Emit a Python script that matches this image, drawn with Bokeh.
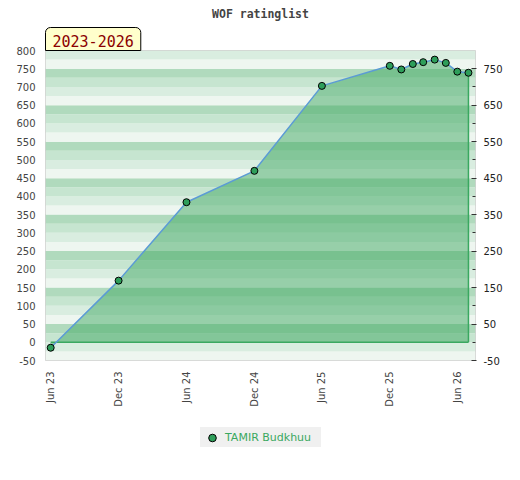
from datetime import datetime
from bokeh.plotting import figure
from bokeh.layouts import column
from bokeh.models import (Range1d, LinearAxis, FixedTicker, DatetimeTickFormatter,
                          BoxAnnotation, Title, Legend, LegendItem, ColumnDataSource)
from bokeh.embed import file_html
from bokeh.resources import INLINE

# ---- data ----
dates = ["2023-06-01", "2023-12-01", "2024-06-01", "2024-12-01", "2025-06-01",
         "2025-12-01", "2026-01-01", "2026-02-01", "2026-03-01", "2026-04-01",
         "2026-05-01", "2026-06-01", "2026-07-01"]
ratings = [-15, 169, 384, 470, 703, 758, 748, 763, 768, 775, 766, 742, 739]
player = "TAMIR Budkhuu"
title_text = "WOF ratinglist"
period_text = "2023-2026"
x_tick_dates = ["2023-06-01", "2023-12-01", "2024-06-01", "2024-12-01",
                "2025-06-01", "2025-12-01", "2026-06-01"]
left_ticks = [-50, 0, 50, 100, 150, 200, 250, 300, 350, 400, 450, 500, 550, 600, 650, 700, 750, 800]
right_major = [-50, 50, 150, 250, 350, 450, 550, 650, 750]
right_minor = [0, 100, 200, 300, 400, 500, 600, 700]
band_edges = list(range(-50, 800, 25))
band_colors = {75: "#d9ede0", 50: "#eef6f0", 25: "#b0dabd", 0: "#c6e5d0"}

xs = [datetime.strptime(d, "%Y-%m-%d") for d in dates]
tick_ms = [datetime.strptime(d, "%Y-%m-%d").timestamp() * 1000 for d in x_tick_dates]

p = figure(frame_width=430, frame_height=310, x_axis_type="datetime",
           x_range=Range1d(datetime(2023, 5, 18), datetime(2026, 7, 20)),
           y_range=Range1d(-50, 800),
           output_backend="svg", toolbar_location=None,
           min_border_left=45, min_border_right=37, min_border_top=50, min_border_bottom=55)
p.background_fill_color = "white"
p.border_fill_color = "white"
p.outline_line_color = "#d0d0d0"
p.outline_line_width = 1
p.xgrid.visible = False
p.ygrid.visible = False

for b in band_edges:
    p.add_layout(BoxAnnotation(bottom=b, top=b + 25, fill_color=band_colors[b % 100],
                               fill_alpha=1, line_alpha=0, level="underlay"))

src = ColumnDataSource(dict(x=xs, y=ratings, zero=[0] * len(xs)))
p.varea(x="x", y1="zero", y2="y", source=src, fill_color="#40a862", fill_alpha=0.5)
p.line(x=[xs[0], xs[-1]], y=[0, 0], line_color="#3aa860", line_width=1.5)
p.line(x=[xs[-1], xs[-1]], y=[0, ratings[-1]], line_color="#3aa860", line_width=1.5)
p.line(x="x", y="y", source=src, line_color="#5b9bd5", line_width=1.5)
p.scatter(x="x", y="y", source=src, size=7, fill_color="#2e9e5a", line_color="black", line_width=1)

# axes
xa = p.xaxis[0]
xa.ticker = FixedTicker(ticks=tick_ms)
xa.formatter = DatetimeTickFormatter(days="%b %y", months="%b %y", years="%b %y")
xa.major_label_orientation = 3.14159265 / 2
xa.axis_line_color = None
xa.major_tick_line_color = None
xa.minor_tick_line_color = None
xa.major_tick_out = 0
xa.major_label_standoff = 11
xa.major_label_text_font = "DejaVu Sans"
xa.major_label_text_font_size = "10px"
xa.major_label_text_color = "#444444"

ya = p.yaxis[0]
ya.ticker = FixedTicker(ticks=left_ticks)
ya.axis_line_color = None
ya.major_tick_line_color = None
ya.minor_tick_line_color = None
ya.major_tick_out = 0
ya.major_label_standoff = 10
ya.major_label_text_font = "DejaVu Sans"
ya.major_label_text_font_size = "10px"
ya.major_label_text_color = "#444444"
ya.major_label_overrides = {-50: "-50"}

ra = LinearAxis(ticker=FixedTicker(ticks=right_major, minor_ticks=right_minor))
ra.axis_line_color = None
ra.major_tick_line_color = "#333333"
ra.minor_tick_line_color = "#333333"
ra.major_tick_in = 4
ra.major_tick_out = 1
ra.minor_tick_in = 3
ra.minor_tick_out = 0
ra.major_label_standoff = 7
ra.major_label_text_font = "DejaVu Sans"
ra.major_label_text_font_size = "10px"
ra.major_label_text_color = "#222222"
ra.major_label_overrides = {-50: "-50"}
p.add_layout(ra, "right")

# period box (nearest the frame), then the main title above it
p.add_layout(Title(text=period_text, align="left", standoff=0,
                   text_font="DejaVu Sans Mono", text_font_style="normal",
                   text_font_size="15px", text_color="#8b0000",
                   background_fill_color="#ffffcc", border_line_color="black", border_line_width=1,
                   padding=dict(left=7, right=7, top=7, bottom=4),
                   border_radius=dict(top_left=5, top_right=5, bottom_right=0, bottom_left=0)),
             "above")
p.add_layout(Title(text=title_text, align="center", standoff=9,
                   text_font="DejaVu Sans Mono", text_font_style="bold",
                   text_font_size="11.5px", text_color="#444444"), "above")

# legend in a small strip below the chart (its key glyph uses the same data, kept out of view)
lg = figure(frame_width=430, frame_height=40, x_range=Range1d(0, 1), y_range=Range1d(0, 1),
            x_axis_location=None, y_axis_location=None,
            output_backend="svg", toolbar_location=None,
            min_border_left=45, min_border_right=37, min_border_top=0, min_border_bottom=0)
lg.outline_line_color = None
lg.xgrid.visible = False
lg.ygrid.visible = False
lg.background_fill_color = "white"
lg.border_fill_color = "white"
key = lg.scatter(x=xs, y=ratings, size=7, fill_color="#2e9e5a", line_color="black", line_width=1)
legend = Legend(items=[LegendItem(label=player, renderers=[key])],
                location=(155, 8), orientation="horizontal",
                background_fill_color="#f0f0f0", background_fill_alpha=1,
                border_line_color=None, padding=0, margin=0, spacing=0,
                glyph_width=24, glyph_height=19, label_height=20, label_width=96,
                label_standoff=1,
                label_text_font="DejaVu Sans", label_text_font_size="11px",
                label_text_color="#3aa860")
lg.add_layout(legend, "center")

layout = column(p, lg, spacing=0)
open("out.html", "w").write(file_html(layout, INLINE))
